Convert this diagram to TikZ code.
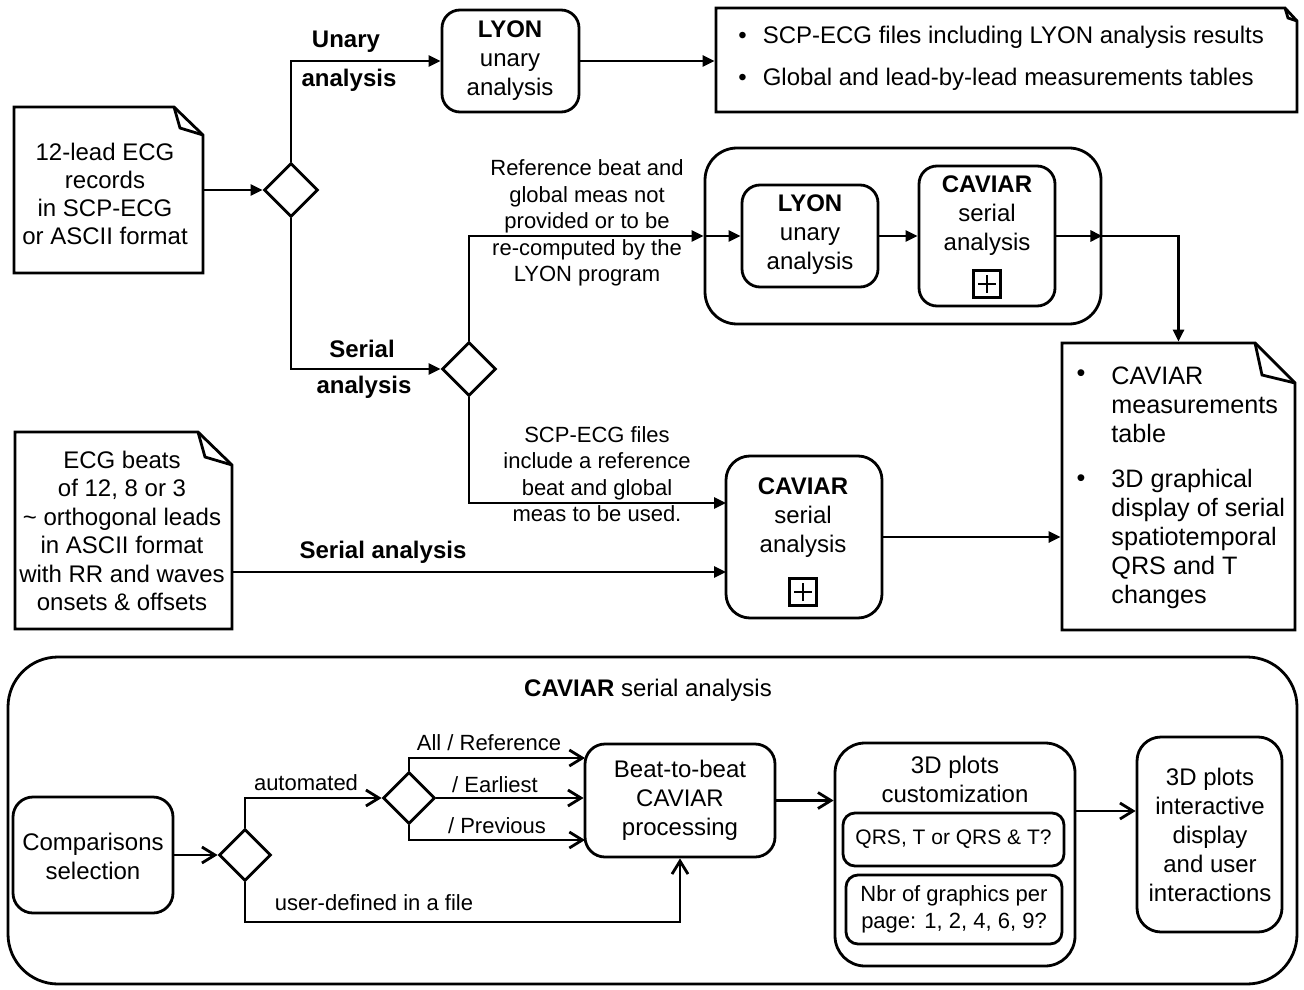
\documentclass[tikz,border=0pt]{standalone}
\usepackage{fontspec}
\setmainfont{Liberation Sans}
\usetikzlibrary{fit,shapes.geometric,arrows.meta}
\newcommand{\fszL}{\fontsize{12}{14.5}\selectfont}
\newcommand{\fszM}{\fontsize{11}{13.2}\selectfont}
\newcommand{\fszB}{\fontsize{12.6}{14.5}\selectfont}
\begin{document}
\begin{tikzpicture}[x=0.5pt,y=-0.5pt,line width=1.4pt,
  box/.style={draw,inner sep=0pt},
  rbox/.style={draw,inner sep=0pt,rounded corners=#1},
  rbox/.default=9pt,
  hid/.style={inner sep=0pt},
  dia/.style={draw,diamond,aspect=1,minimum width=27pt,minimum height=27pt,inner sep=0pt},
  txt/.style={align=center,inner sep=0pt,font=\fszL},
  lbl/.style={align=center,inner sep=0pt,font=\fszM},
  blbl/.style={align=center,inner sep=0pt,font=\fszL\bfseries},
  arr/.style={-{Triangle[length=6pt,width=5.5pt]}},
  oarr/.style={-{Straight Barb[length=6.5pt,width=8pt]}},
  plusbox/.style={draw,minimum size=13.5pt,inner sep=0pt,line width=1.3pt}]
\useasboundingbox (0,0) rectangle (1304,989);

% ---------- top: 12-lead records ----------
\node[hid,fit={(14,107) (203,273)}] (doc1) {};
\draw (14,107) -- (174,107) -- (203,135) -- (203,273) -- (14,273) -- cycle;
\draw (174,107) -- (180,128) -- (203,135);
\node[txt,font=\fontsize{12}{14}\selectfont] (doc1t) at (105,194) {12-lead ECG\\records\\in SCP-ECG\\or ASCII format};

\node[dia] (dia1) at (291,190) {};
\draw[arr] (doc1.east) -- (dia1.west);

\node[rbox,fit={(442,10) (579,112)}] (lyon1) {};
\node[txt] (lyon1t) at (510,61) {\textbf{LYON}\\unary\\analysis};
\draw[arr] (dia1.north) |- (lyon1.west);
\node[blbl] (lunary) at (346,42) {Unary};
\node[blbl] (lanalysis1) at (349,80) {analysis};

% results document
\node[hid,fit={(716,8) (1297,112)}] (res) {};
\draw (716,8) -- (1285,8) -- (1297,21) -- (1297,112) -- (716,112) -- cycle;
\draw (1285,8) -- (1288,18) -- (1297,21);
\node[anchor=west,inner sep=0pt,font=\fszL] (r1) at (737,37) {\textbullet\hspace{8pt}SCP-ECG files including LYON analysis results};
\node[anchor=west,inner sep=0pt,font=\fszL] (r2) at (737,79) {\textbullet\hspace{8pt}Global and lead-by-lead measurements tables};
\draw[arr] (lyon1.east) -- (lyon1.east -| res.west);

% serial branch
\node[dia] (dia2) at (469,369) {};
\draw[arr] (dia1.south) |- (dia2.west);
\node[blbl] (lserial) at (362,349) {Serial};
\node[blbl] (lanalysis2) at (364,387) {analysis};

% container with LYON + CAVIAR
\node[rbox=16pt,fit={(705,148) (1101,324)}] (cont) {};
\draw[arr] (dia2.north) |- (cont.west);
\node[lbl] (lref) at (587,223) {Reference beat and\\global meas not\\provided or to be\\re-computed by the\\LYON program};

\node[rbox,fit={(742,185) (878,287)}] (lyon2) {};
\node[txt] (lyon2t) at (810,235) {\textbf{LYON}\\unary\\analysis};
\draw[arr] (cont.west) -- (lyon2.west);

\node[rbox,fit={(919,166) (1055,306)}] (cav1) {};
\node[txt] (cav1t) at (987,216) {\textbf{CAVIAR}\\serial\\analysis};
\node[plusbox] (plus1) at (987,284) {};
\draw[line width=1.3pt] ([xshift=-4.5pt]plus1.center) -- ([xshift=4.5pt]plus1.center);
\draw[line width=1.3pt] ([yshift=-4.5pt]plus1.center) -- ([yshift=4.5pt]plus1.center);
\draw[arr] (lyon2.east) -- (cav1.west);
\draw[arr] (cav1.east) -- (cont.east);

% CAVIAR output document
\node[hid,fit={(1062,343) (1295,630)}] (doc3) {};
\draw (1062,343) -- (1255,343) -- (1295,383) -- (1295,630) -- (1062,630) -- cycle;
\draw (1255,343) -- (1262,375) -- (1295,383);
\draw[arr] (cont.east) -| (doc3.north);
\node[inner sep=0pt,font=\fszB] (b1) at (1081,376) {\textbullet};
\node[inner sep=0pt,font=\fszB] (b2) at (1081,481) {\textbullet};
\node[anchor=west,align=left,inner sep=0pt,font=\fszB] (d3a) at (1110,405) {CAVIAR\\measurements\\table};
\node[anchor=west,align=left,inner sep=0pt,font=\fszB] (d3b) at (1110,539) {3D graphical\\display of serial\\spatiotemporal\\QRS and T\\changes};

% ECG beats document
\node[hid,fit={(15,432) (232,629)}] (doc2) {};
\draw (15,432) -- (198,432) -- (232,465) -- (232,629) -- (15,629) -- cycle;
\draw (198,432) -- (205,457) -- (232,465);
\node[txt,font=\fontsize{12}{14.2}\selectfont] (doc2t) at (122,531) {ECG beats\\of 12, 8 or 3\\\textasciitilde{} orthogonal leads\\in ASCII format\\with RR and waves\\onsets \& offsets};

% CAVIAR serial analysis (middle)
\node[rbox=12pt,fit={(726,456) (882,618)}] (cav2) {};
\node[txt] (cav2t) at (803,518) {\textbf{CAVIAR}\\serial\\analysis};
\node[plusbox] (plus2) at (803,592) {};
\draw[line width=1.3pt] ([xshift=-4.5pt]plus2.center) -- ([xshift=4.5pt]plus2.center);
\draw[line width=1.3pt] ([yshift=-4.5pt]plus2.center) -- ([yshift=4.5pt]plus2.center);
\coordinate (cav2in1) at (726,503);
\coordinate (cav2in2) at (726,572);
\draw[arr] (dia2.south) |- (cav2in1);
\node[lbl] (lscp) at (597,474) {SCP-ECG files\\include a reference\\beat and global\\meas to be used.};
\draw[arr] (doc2.east |- cav2in2) -- (cav2in2);
\node[blbl] (lserial2) at (383,552) {Serial analysis};
\draw[arr] (cav2.east) -- (cav2.east -| doc3.west);

% ---------- bottom: CAVIAR serial analysis ----------
\node[rbox=25pt,fit={(8,657) (1297,984)}] (bottom) {};
\node[txt] (btitle) at (648,690) {\textbf{CAVIAR} serial analysis};

\node[rbox=10pt,fit={(13,797) (173,913)}] (cmp) {};
\node[txt] (cmpt) at (93,856) {Comparisons\\selection};
\node[dia,minimum width=26pt,minimum height=26pt] (dia3) at (245,855) {};
\draw[oarr] (cmp.east) -- (dia3.west);

\node[dia,minimum width=26pt,minimum height=26pt] (dia4) at (409,798) {};
\draw[oarr] (dia3.north) |- (dia4.west);
\node[lbl] (lauto) at (306,783) {automated};

\node[rbox=10pt,fit={(585,744) (775,857)}] (beat) {};
\node[txt] (beatt) at (680,800) {Beat-to-beat\\CAVIAR\\processing};
\coordinate (beatA) at (585,758);
\coordinate (beatC) at (585,840);
\draw[oarr] (dia4.north) |- (beatA);
\draw[oarr] (dia4.east) -- (dia4.east -| beat.west);
\draw[oarr] (dia4.south) |- (beatC);
\node[lbl] (lall) at (489,743) {All / Reference};
\node[lbl] (learl) at (495,785) {/ Earliest};
\node[lbl] (lprev) at (497,826) {/ Previous};

\coordinate (ud) at (680,922);
\draw[oarr] (dia3.south) |- (ud) -- (ud |- beat.south);
\node[lbl] (luser) at (374,903) {user-defined in a file};

\node[rbox=15pt,fit={(835,743) (1075,966)}] (plots) {};
\node[txt] (plotst) at (955,779) {3D plots\\customization};
\node[rbox=6pt,fit={(843,813) (1064,866)}] (q1) {};
\node[inner sep=0pt,font=\fontsize{10.5}{12}\selectfont] (q1t) at (q1.center) {QRS, T or QRS \& T?};
\node[rbox=6pt,fit={(846,875) (1062,944)}] (q2) {};
\node[lbl] (q2t) at (q2.center) {Nbr of graphics per\\page: 1, 2, 4, 6, 9?};
\draw[oarr] (beat.east) -- (beat.east -| plots.west);

\node[rbox=12pt,fit={(1137,737) (1282,932)}] (inter) {};
\node[txt] (intert) at (1210,835) {3D plots\\interactive\\display\\and user\\interactions};
\coordinate (p3) at (1075,811);
\draw[oarr] (p3) -- (p3 -| inter.west);
\end{tikzpicture}
\end{document}
